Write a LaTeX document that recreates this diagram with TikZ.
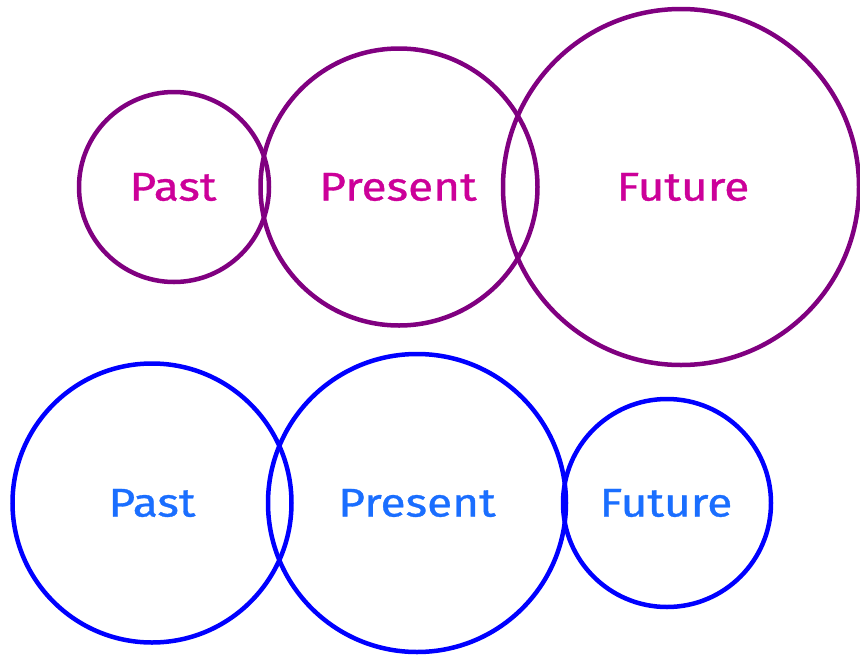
\documentclass[tikz,border=0pt]{standalone}
\usepackage{fontspec}
\setmainfont{Fira Sans}
\newfontfamily\labelfont[FakeBold=0.8]{Fira Sans}
\definecolor{ringpurple}{HTML}{800080}
\definecolor{ringblue}{HTML}{0000FF}
\definecolor{txtmag}{HTML}{CC0099}
\definecolor{txtblue}{HTML}{1A6EFF}
\newcommand{\widetxt}[1]{\scalebox{1.15}[1]{#1}}
\begin{document}
\begin{tikzpicture}[x=1pt,y=-1pt,
  ring/.style={draw, line width=4.5pt, circle, inner sep=0pt},
  toptxt/.style={text=txtmag, font=\labelfont\fontsize{40}{42}\selectfont},
  bottxt/.style={text=txtblue, font=\labelfont\fontsize{40}{42}\selectfont}]
\useasboundingbox (0,0) rectangle (860,654);
% top row
\node[ring, ringpurple, minimum size=190pt] (pastT) at (174,187) {};
\node[ring, ringpurple, minimum size=277pt] (presT) at (399,187) {};
\node[ring, ringpurple, minimum size=356pt] (futT) at (681,187) {};
\node[toptxt] (pastTl) at (173,187) {\widetxt{Past}};
\node[toptxt] (presTl) at (398,187) {\widetxt{Present}};
\node[toptxt] (futTl) at (683,187) {\widetxt{Future}};
% bottom row
\node[ring, ringblue, minimum size=279pt] (pastB) at (152,503) {};
\node[ring, ringblue, minimum size=298pt] (presB) at (417,503) {};
\node[ring, ringblue, minimum size=208pt] (futB) at (667,503) {};
\node[bottxt] (pastBl) at (152,503) {\widetxt{Past}};
\node[bottxt] (presBl) at (417,503) {\widetxt{Present}};
\node[bottxt] (futBl) at (666,503) {\widetxt{Future}};
\end{tikzpicture}
\end{document}
